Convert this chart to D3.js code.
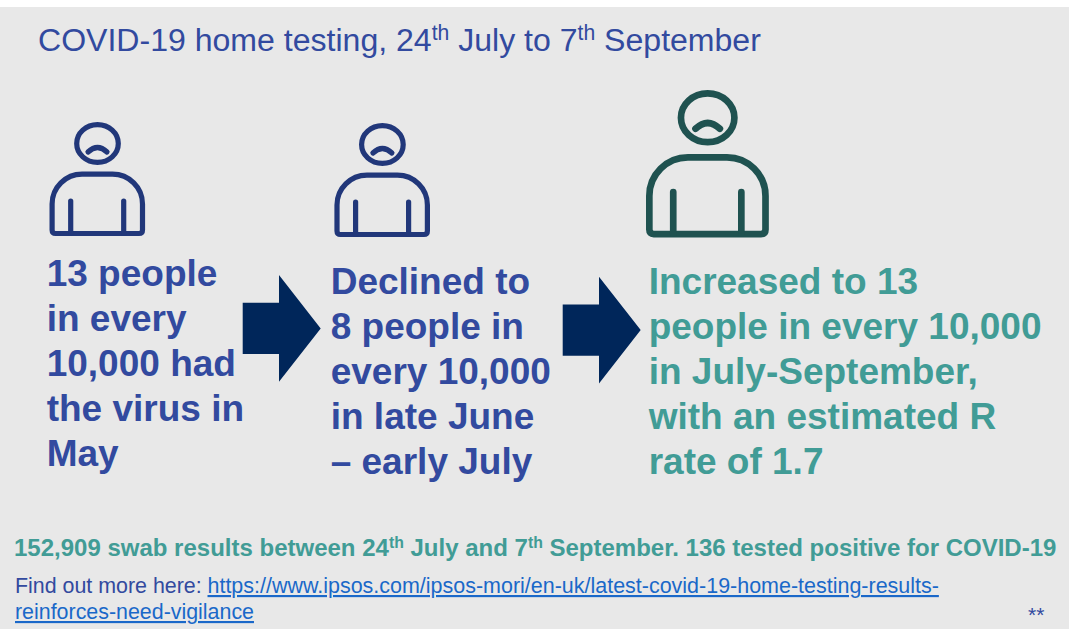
<!DOCTYPE html>
<html>
<head>
<meta charset="utf-8">
<script src="https://cdn.jsdelivr.net/npm/d3@7"></script>
<style>
  html, body { margin: 0; padding: 0; background: #fff; }
  text { font-family: "Liberation Sans", Arial, sans-serif; }
</style>
</head>
<body>
<svg width="1077" height="629"></svg>
<script>
var stages = ['may', 'june', 'september'];
var mayLines = ['13 people', 'in every', '10,000 had', 'the virus in', 'May'];
var juneLines = ['Declined to', '8 people in', 'every 10,000', 'in late June', '\u2013 early July'];
var septemberLines = ['Increased to 13', 'people in every 10,000', 'in July-September,', 'with an estimated R', 'rate of 1.7'];
var titleParts = [['COVID-19 home testing, 24', 0], ['th', 1], [' July to 7', 0], ['th', 1], [' September', 0]];
var swabParts = [['152,909 swab results between 24', 0], ['th', 1], [' July and 7', 0], ['th', 1], [' September. 136 tested positive for COVID-19', 0]];
var linkLines = ['https://www.ipsos.com/ipsos-mori/en-uk/latest-covid-19-home-testing-results-', 'reinforces-need-vigilance'];

var BLUE = '#324a9f', NAVY = '#21377a', DARK = '#00265a', TEAL = '#419c96', GREEN = '#1f5250', LINK = '#1a68c9';

var svg = d3.select('svg');

svg.append('rect')
  .attr('x', 0).attr('y', 7)
  .attr('width', 1069).attr('height', 622)
  .attr('fill', '#e8e8e8');

// text with small raised runs for the "th"
function richText(x, y, size, color, weight, parts) {
  var t = svg.append('text')
    .attr('x', x).attr('y', y)
    .attr('font-size', size)
    .attr('font-weight', weight)
    .attr('fill', color);
  var raise = size * 0.33;
  var prev = 0;
  parts.forEach(function(p) {
    t.append('tspan')
      .attr('dy', (prev - p[1]) * raise)
      .attr('font-size', p[1] ? size * 0.66 : size)
      .text(p[0]);
    prev = p[1];
  });
  return t;
}

richText(38, 51, 32.05, BLUE, 'normal', titleParts);
richText(14, 556, 24, TEAL, 'bold', swabParts);

// stage text blocks
var textX = d3.scaleOrdinal().domain(stages).range([46.7, 330.7, 648.7]);
var textTop = d3.scaleOrdinal().domain(stages).range([286.4, 294.4, 294.4]);
var textColor = d3.scaleOrdinal().domain(stages).range([BLUE, BLUE, TEAL]);
var lineStep = 44.85;

[mayLines, juneLines, septemberLines].forEach(function(lines, i) {
  var key = stages[i];
  svg.append('g').selectAll('text')
    .data(lines)
    .enter()
    .append('text')
    .attr('x', textX(key))
    .attr('y', function(d, j) { return textTop(key) + j * lineStep; })
    .attr('font-size', 37)
    .attr('font-weight', 'bold')
    .attr('fill', textColor(key))
    .text(function(d) { return d; });
});

// person icons, drawn on a 95 wide box and scaled per stage
var iconColor = d3.scaleOrdinal().domain(stages).range([NAVY, NAVY, GREEN]);
var iconPos = d3.scaleOrdinal().domain(stages).range([[49.5, 122], [334.4, 123], [646, 90]]);
var iconScale = d3.scaleOrdinal().domain(stages).range([[1, 1], [1, 1], [1.285, 1.292]]);

function drawPerson(key) {
  var p = iconPos(key), s = iconScale(key);
  var g = svg.append('g')
    .attr('transform', 'translate(' + p[0] + ',' + p[1] + ') scale(' + s[0] + ',' + s[1] + ')')
    .attr('fill', 'none')
    .attr('stroke', iconColor(key))
    .attr('stroke-width', 5.2)
    .attr('stroke-linecap', 'round');
  g.append('ellipse').attr('cx', 48).attr('cy', 21.5).attr('rx', 20.8).attr('ry', 18.9);
  g.append('path').attr('d', 'M38.5 30 Q48 21 57.5 30');
  g.append('path').attr('d', 'M2.6 82 A30 29.8 0 0 1 32.6 52.2 L63 52.2 A30 29.8 0 0 1 93 82 L93 108 Q93 111.5 89.5 111.5 L6 111.5 Q2.6 111.5 2.6 108 Z');
  g.append('path').attr('d', 'M21.2 79 L21.2 111');
  g.append('path').attr('d', 'M74.2 79 L74.2 111');
}
stages.forEach(drawPerson);

// arrows between the stages
var arrowStages = stages.slice(0, 2);
var arrowX = d3.scaleOrdinal().domain(arrowStages).range([242.7, 562.7]);
var arrowY = d3.scaleOrdinal().domain(arrowStages).range([0, 1.7]);
svg.append('g').selectAll('path')
  .data(arrowStages)
  .enter()
  .append('path')
  .attr('fill', DARK)
  .attr('transform', function(d) { return 'translate(' + arrowX(d) + ',' + arrowY(d) + ')'; })
  .attr('d', 'M0 302.7 H36.3 V275 L78 328.4 L36.3 381.7 V354 H0 Z');

// footer
svg.append('text')
  .attr('x', 15).attr('y', 593)
  .attr('font-size', 21.4)
  .attr('fill', BLUE)
  .text('Find out more here:');

svg.append('g').selectAll('text')
  .data(linkLines)
  .enter()
  .append('text')
  .attr('x', function(d, i) { return i ? 15 : 207.5; })
  .attr('y', function(d, i) { return i ? 619 : 593; })
  .attr('font-size', function(d, i) { return i ? 21.4 : 21.48; })
  .attr('fill', LINK)
  .attr('text-decoration', 'underline')
  .text(function(d) { return d; });

svg.append('text')
  .attr('x', 1028).attr('y', 622)
  .attr('font-size', 21)
  .attr('fill', BLUE)
  .text('**');
</script>
</body>
</html>
